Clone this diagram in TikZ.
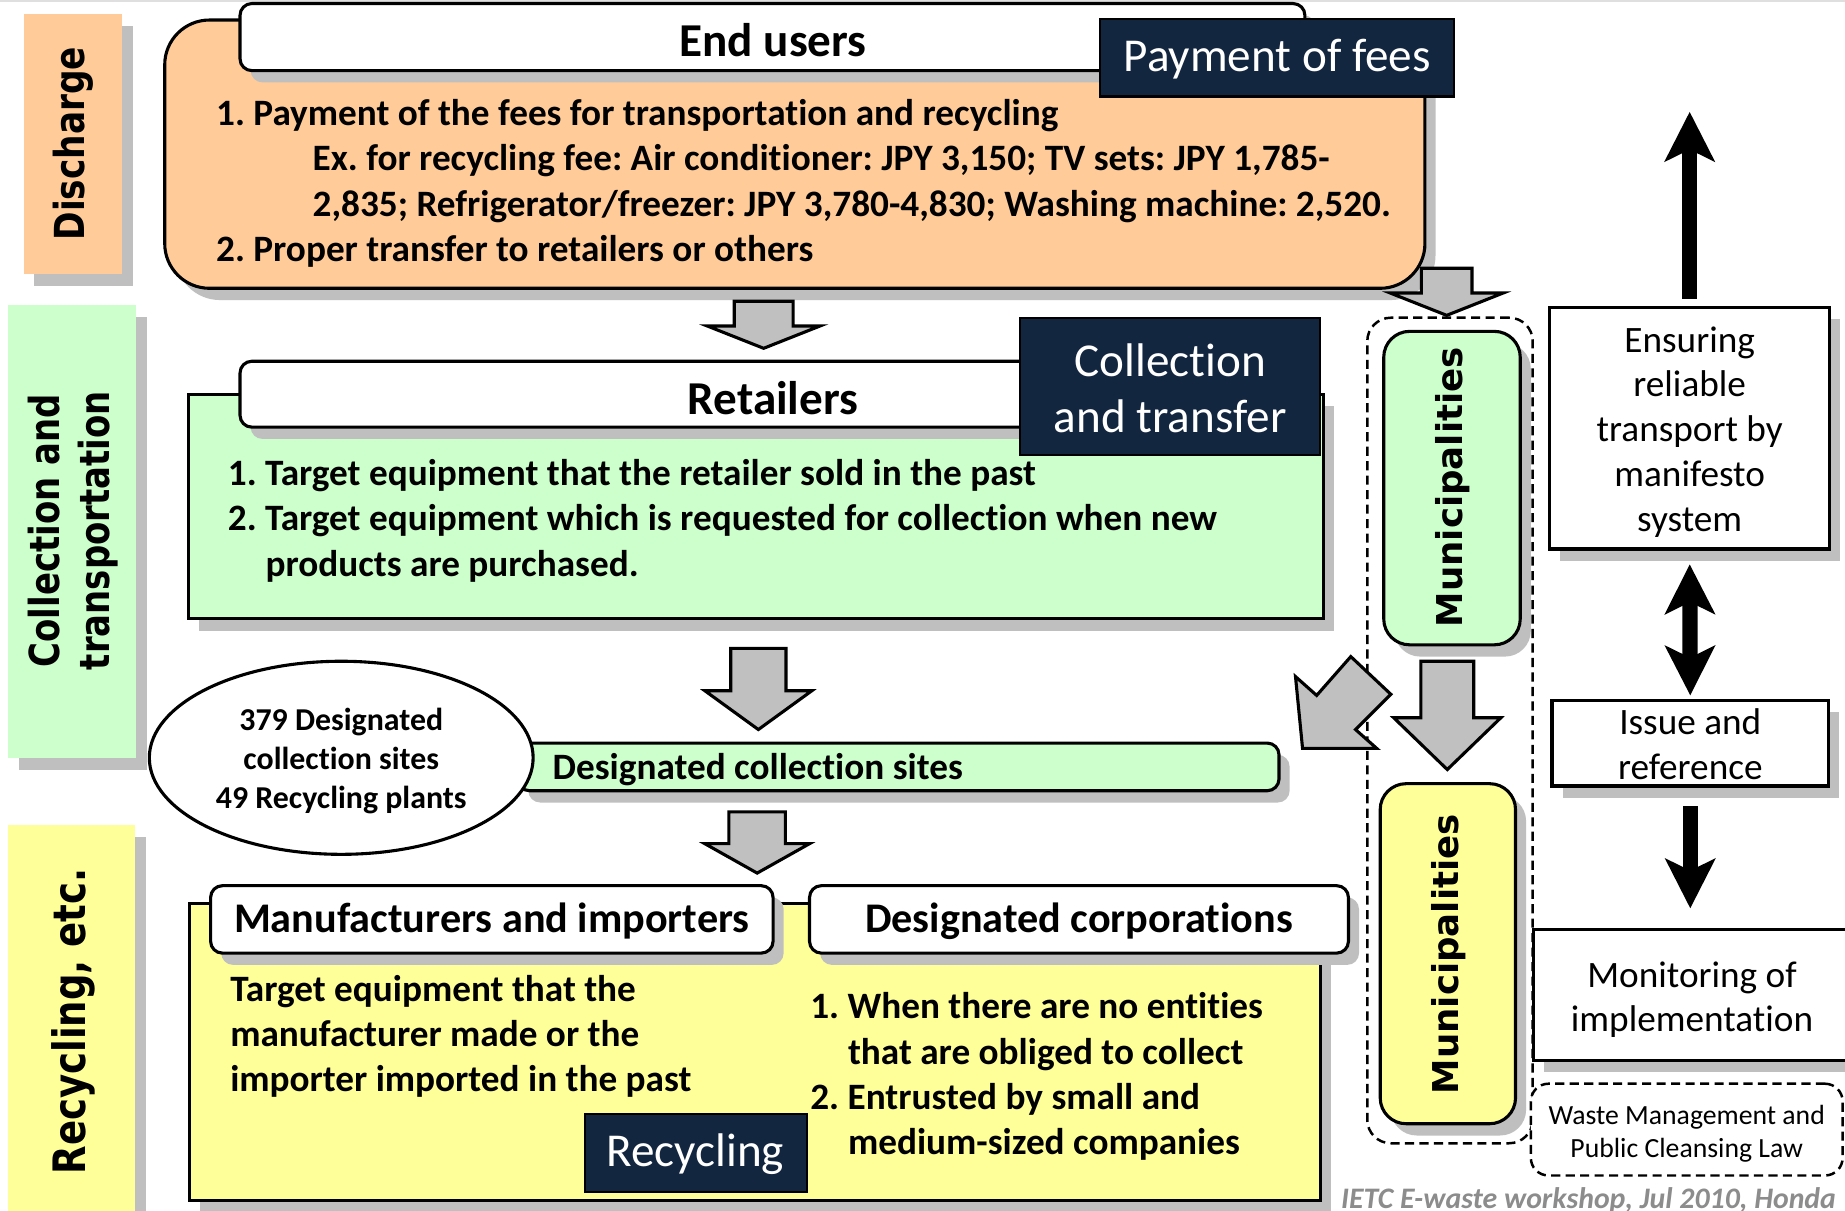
\documentclass[tikz,border=0pt]{standalone}
\usepackage{fontspec}
\setmainfont{Carlito}[Ligatures=NoCommon]
\newfontfamily\verd{DejaVu Sans}
\frenchspacing
\usetikzlibrary{shadows,arrows.meta,shapes.geometric,fit}
\definecolor{peach}{HTML}{FFCC99}
\definecolor{mint}{HTML}{CCFFCC}
\definecolor{lemon}{HTML}{FFFF99}
\definecolor{navy}{HTML}{132640}
\definecolor{shade}{HTML}{BFBFBF}
\definecolor{garr}{HTML}{C0C0C0}
\definecolor{footg}{HTML}{8C8C8C}
\newcommand{\grayarrowdown}[6]{\filldraw[garrow] (#1-#5,#2) -- (#1+#5,#2) -- (#1+#5,#3) -- (#1+#6,#3) -- (#1,#4) -- (#1-#6,#3) -- (#1-#5,#3) -- cycle;}
\tikzset{
 shadowed/.style={drop shadow={shadow xshift=0.09cm, shadow yshift=-0.1cm, opacity=1, fill=shade}},
 bx/.style={draw=black, line width=0.75pt, inner sep=0pt, outer sep=0pt},
 labbox/.style={inner sep=0pt, outer sep=0pt, shadowed},
 labtxt/.style={font=\verd\bfseries\fontsize{10}{16}\selectfont, rotate=90, align=center, inner sep=0pt},
 bodytxt/.style={font=\bfseries\fontsize{9}{10.9}\selectfont, align=left, inner sep=0pt, anchor=north west},
 hdbox/.style={bx, fill=white, rounded corners=0.1cm, shadowed},
 hdtxt/.style={font=\bfseries\fontsize{11.4}{13}\selectfont, inner sep=0pt},
 navybox/.style={draw=black, line width=0.5pt, fill=navy, inner sep=0pt},
 navytxt/.style={text=white, inner sep=0pt, font=\fontsize{11.4}{13.4}\selectfont, align=center},
 whitebox/.style={bx, fill=white, shadowed},
 whitetxt/.style={font=\fontsize{9}{10.8}\selectfont, align=center, inner sep=0pt},
 garrow/.style={fill=garr, draw=black, line width=0.75pt, line join=miter},
 blk/.style={line width=0.13cm, -{Stealth[length=0.42cm,width=0.42cm,inset=0.1cm]}},
 blkboth/.style={line width=0.13cm, {Stealth[length=0.42cm,width=0.42cm,inset=0.1cm]}-{Stealth[length=0.42cm,width=0.42cm,inset=0.1cm]}},
 dashline/.style={draw=black, line width=0.6pt, dash pattern=on 2.2pt off 1.3pt},
}
\begin{document}
\begin{tikzpicture}[x=0.01cm,y=-0.01cm]
\useasboundingbox (0,0) rectangle (1568,1029);
\clip (0,0) rectangle (1568,1029);
\fill[white] (0,0) rectangle (1568,1029);
\fill[shade!50] (0,0) rectangle (1568,2);

% side labels
\node[labbox, fill=peach, fit={(20,12) (104,233)}] (lab1) {};
\node[labtxt] (lab1t) at (62,122) {\scalebox{0.83}[1]{Discharge}};
\node[labbox, fill=mint, fit={(7,259) (116,644)}] (lab2) {};
\node[labtxt] (lab2t) at (62,451) {\scalebox{0.82}[1]{\shortstack{Collection and\\[1.5pt]transportation}}};
\node[labbox, fill=lemon, fit={(7,701) (115,1040)}] (lab3) {};
\node[labtxt, font=\verd\bfseries\fontsize{10.8}{16}\selectfont] (lab3t) at (62,868) {\scalebox{0.83}[1]{Recycling, etc.}};

% end users
\node[bx, fill=peach, rounded corners=0.38cm, shadowed, fit={(140,17) (1211,245)}] (eu) {};
\node[hdbox, fit={(204,3) (1109,60)}] (euh) {};
\node[hdtxt] (euht) at (657,34) {End users};
\node[navybox, fit={(935,16) (1236,82)}] (fees) {};
\node[navytxt] (feest) at (1085.5,50) {Payment of fees};
\node[bodytxt] (eut) at (183,84) {1. Payment of the fees for transportation and recycling\\
\hspace*{0.82cm}Ex. for recycling fee: Air conditioner: JPY 3,150; TV sets: JPY 1,785-\\
\hspace*{0.82cm}2,835; Refrigerator/freezer: JPY 3,780-4,830; Washing machine: 2,520.\\
2. Proper transfer to retailers or others};

% retailers
\node[bx, fill=mint, shadowed, fit={(160,335) (1125,526)}] (ret) {};
\node[hdbox, fit={(204,307) (1109,363)}] (reth) {};
\node[hdtxt] (retht) at (657,338) {Retailers};
\node[navybox, fit={(867,270) (1122,387)}] (coltr) {};
\node[navytxt] (coltrt) at (994.5,330) {Collection\\and transfer};
\node[bodytxt] (rett) at (193,390) {1. Target equipment that the retailer sold in the past\\
2. Target equipment which is requested for collection when new\\
\hspace*{0.32cm}products are purchased.};

% designated collection sites
\node[bx, fill=mint, rounded corners=0.1cm, shadowed, fit={(440,631.5) (1087,672)}] (dcs) {};
\node[font=\bfseries\fontsize{9}{10.9}\selectfont, anchor=west, inner sep=0pt] (dcst) at (469,654) {Designated collection sites};
\node[draw=black, line width=0.75pt, fill=white, ellipse, minimum width=3.26cm, minimum height=1.64cm, inner sep=0pt] (ell) at (290,644) {};
\node[align=center, inner sep=0pt, font=\bfseries\fontsize{7.7}{9.4}\selectfont] (ellt) at (290,647) {379 Designated\\collection sites\\49 Recycling plants};

% recycling
\node[bx, fill=lemon, shadowed, fit={(161,767.6) (1122,1020)}] (rec) {};
\node[hdbox, fit={(179,752.7) (657,810)}] (manh) {};
\node[hdtxt, font=\bfseries\fontsize{10.2}{12}\selectfont] (manht) at (418,783) {Manufacturers and importers};
\node[hdbox, fit={(688,752.7) (1146,810)}] (dch) {};
\node[hdtxt, font=\bfseries\fontsize{10.2}{12}\selectfont] (dcht) at (917,783) {Designated corporations};
\node[bodytxt] (mant) at (195,828) {Target equipment that the\\manufacturer made or the\\importer imported in the past};
\node[bodytxt] (dct) at (688,843) {1. When there are no entities\\
\hspace*{0.32cm}that are obliged to collect\\
2. Entrusted by small and\\
\hspace*{0.32cm}medium-sized companies};
\node[navybox, fit={(497,946.7) (685.5,1012.7)}] (recn) {};
\node[navytxt] (recnt) at (591,981) {Recycling};

% municipalities
\node[dashline, rounded corners=0.2cm, inner sep=0pt, fit={(1162,270) (1302.6,971.6)}] (mbox) {};
\node[bx, fill=mint, rounded corners=0.22cm, shadowed, fit={(1176,281.6) (1292,548)}] (mun1) {};
\node[labtxt, font=\verd\bfseries\fontsize{8.6}{10}\selectfont] (mun1t) at (1235,414) {Municipalities};
\node[bx, fill=lemon, rounded corners=0.22cm, shadowed, fit={(1173,666) (1288,955)}] (mun2) {};
\node[labtxt, font=\verd\bfseries\fontsize{8.6}{10}\selectfont] (mun2t) at (1231,811) {Municipalities};

% right column
\node[whitebox, fit={(1317,261) (1555,466.6)}] (ens) {};
\node[whitetxt] (enst) at (1436,367) {Ensuring\\reliable\\transport by\\manifesto\\system};
\node[whitebox, fit={(1319,595) (1554,668)}] (iss) {};
\node[whitetxt] (isst) at (1436.5,632.5) {Issue and\\reference};
\node[whitebox, fit={(1303,790) (1590,901.4)}] (mon) {};
\node[whitetxt] (mont) at (1438,849.5) {Monitoring of\\implementation};
\node[dashline, fill=white, rounded corners=0.15cm, inner sep=0pt, fit={(1301,921) (1566,999)}] (waste) {};
\node[whitetxt, font=\fontsize{6.7}{8}\selectfont] (wastet) at (1433.5,963.5) {Waste Management and\\Public Cleansing Law};

% grey block arrows
\grayarrowdown{649}{256}{277}{296}{25}{48}
\grayarrowdown{644.5}{551}{587}{620}{23.5}{45.5}
\grayarrowdown{643.5}{690}{717}{742}{24}{44.5}
\grayarrowdown{1229.5}{228}{249}{268}{21.5}{48}
\grayarrowdown{1230}{562}{610}{654}{22.5}{45.5}
\filldraw[garrow] (1101,575) -- (1119,591) -- (1148,558) -- (1182,590) -- (1152,620) -- (1170,636) -- (1107,636) -- cycle;

% black arrows
\coordinate (uptip) at (1436,95);
\draw[blk, shorten <=0.07cm] (ens.north) -- (uptip);
\draw[blkboth, shorten <=0.13cm, shorten >=0.04cm] (ens.south) -- (iss.north);
\draw[blk, shorten <=0.17cm, shorten >=0.18cm] (iss.south) -- (iss.south |- mon.north);

% footer
\node[font=\bfseries\itshape\fontsize{7.2}{8}\selectfont, text=footg, anchor=east, inner sep=0pt] (foot) at (1561,1020) {IETC E-waste workshop, Jul 2010, Honda};
\end{tikzpicture}
\end{document}
